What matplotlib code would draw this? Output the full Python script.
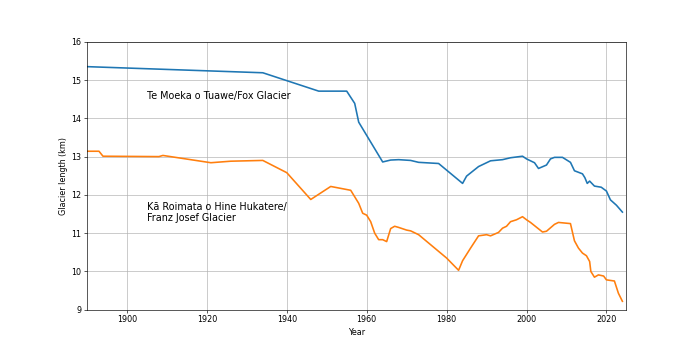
import matplotlib.pyplot as plt
import numpy as np

# Te Moeka o Tuawe / Fox Glacier
fox_years = [1890, 1934, 1948, 1955, 1957, 1958, 1964, 1966, 1968, 1971, 1973, 1978,
             1984, 1985, 1988, 1991, 1994, 1996, 1999, 2000, 2002, 2003, 2005, 2006,
             2007, 2009, 2011, 2012, 2014, 2014.6, 2015.2, 2015.8, 2017, 2018.7, 2020,
             2021, 2022.5, 2024]
fox_len = [15.35, 15.19, 14.71, 14.71, 14.39, 13.9, 12.86, 12.91, 12.92, 12.9, 12.85, 12.82,
           12.3, 12.49, 12.74, 12.89, 12.92, 12.97, 13.01, 12.94, 12.84, 12.69, 12.78, 12.94,
           12.98, 12.98, 12.85, 12.63, 12.55, 12.45, 12.3, 12.36, 12.23, 12.2, 12.1,
           11.87, 11.73, 11.55]

# Ka Roimata o Hine Hukatere / Franz Josef Glacier
fj_years = [1890, 1893, 1894, 1908, 1909, 1921, 1926, 1934, 1940, 1946, 1951, 1956,
            1958, 1959, 1960, 1961, 1962, 1963, 1964, 1965, 1966, 1967, 1968, 1970,
            1971, 1973, 1980, 1983, 1984, 1986, 1988, 1990, 1991, 1993, 1994, 1995,
            1996, 1997.5, 1999, 2000, 2001, 2004, 2005, 2007, 2008, 2009, 2011, 2012,
            2013, 2014, 2015, 2015.8, 2016.1, 2017, 2018, 2019.3, 2020, 2022, 2023, 2024]
fj_len = [13.14, 13.14, 13.01, 13.0, 13.03, 12.84, 12.88, 12.9, 12.58, 11.88, 12.22, 12.12,
          11.78, 11.52, 11.47, 11.3, 11.0, 10.83, 10.83, 10.78, 11.12, 11.18, 11.15, 11.08,
          11.06, 10.96, 10.35, 10.03, 10.28, 10.61, 10.93, 10.96, 10.93, 11.02, 11.13, 11.18,
          11.3, 11.35, 11.43, 11.35, 11.28, 11.03, 11.05, 11.23, 11.28, 11.27, 11.25, 10.8,
          10.61, 10.48, 10.41, 10.26, 10.0, 9.85, 9.91, 9.88, 9.78, 9.75, 9.43, 9.22]

fig = plt.figure(figsize=(12, 6), dpi=58)
plt.plot(fox_years, fox_len, linewidth=2)
plt.plot(fj_years, fj_len, linewidth=2)
plt.text(1905, 14.5, "Te Moeka o Tuawe/Fox Glacier", fontsize=12)
plt.text(1905, 11.33, "Kā Roimata o Hine Hukatere/\nFranz Josef Glacier", fontsize=12,
         linespacing=1.1)
plt.xlim(1890, 2025)
plt.ylim(9, 16)
plt.grid(True)
plt.xlabel("Year")
plt.ylabel("Glacier length (km)")
plt.savefig("out.png", dpi=58)
